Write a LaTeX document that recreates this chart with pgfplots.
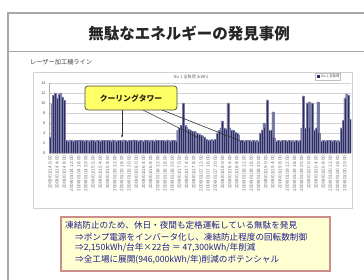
\documentclass[border=0pt]{standalone}
\usepackage{pgfplots}
\pgfplotsset{compat=1.18}
\usetikzlibrary{arrows.meta}
\usepackage{fontspec}
\setmainfont{Liberation Sans}
\newfontfamily\cjk{Noto Sans CJK JP}
\definecolor{barfill}{HTML}{2D2D5E}
\definecolor{baredge}{HTML}{7C7CAB}
\definecolor{slidegray}{HTML}{A8A8A8}
\definecolor{callyel}{HTML}{FFFF66}
\definecolor{boxfill}{HTML}{FFFFD2}
\definecolor{boxedge}{HTML}{CC8C8C}
\definecolor{navytext}{HTML}{1E1E8C}
\begin{document}
\begin{tikzpicture}[x=1pt,y=1pt]
\path[use as bounding box, fill=white] (0,0) rectangle (364,280);
% slide frame
\draw[slidegray, line width=1.2pt] (8,-2) -- (8,267) -- (366,267);
\draw[slidegray, line width=0.8pt] (8,229) -- (366,229);
\node[font=\cjk\bfseries\fontsize{15.5}{16}\selectfont, text=black!85] at (189,247) {無駄なエネルギーの発見事例};
\node[anchor=west, font=\cjk\fontsize{6.2}{7}\selectfont, text=black!75, inner sep=0pt] at (30,218) {レーザー加工機ライン};
% chart frame
\draw[gray!35, line width=0.5pt, fill=white] (33,72) rectangle (352,208);
\node[font=\cjk\fontsize{4.2}{5}\selectfont, text=black!60] at (191,203) {No.1 全負荷 (kWh)};
\draw[gray!50, line width=0.3pt] (315,200) rectangle (340,207);
\fill[barfill] (317,202) rectangle (320,205);
\node[anchor=west, font=\cjk\fontsize{3.4}{4}\selectfont, text=black!70, inner sep=0pt] at (321,203.5) {No.1 全負荷};
\begin{axis}[
  at={(49pt,127pt)}, anchor=south west, scale only axis,
  width=302pt, height=70pt,
  xmin=-0.5, xmax=167.5, ymin=0, ymax=14,
  ybar, bar width=1,
  ytick={0,2,...,14},
  ymajorgrids, grid style={gray!35, line width=0.3pt},
  axis x line*=bottom, axis y line*=left,
  axis line style={gray!60, line width=0.4pt},
  tick style={gray!60, line width=0.3pt},
  major tick length=1.5pt,
  /pgf/number format/assume math mode=true,
  yticklabel style={font=\fontsize{4}{4}\selectfont, text=black!65},
  xtick={0,4,...,164},
  xticklabels={
  2008/01/14 0:00,2008/01/14 4:00,2008/01/14 8:00,2008/01/14 12:00,2008/01/14 16:00,2008/01/14 20:00,
  2008/01/15 0:00,2008/01/15 4:00,2008/01/15 8:00,2008/01/15 12:00,2008/01/15 16:00,2008/01/15 20:00,
  2008/01/16 0:00,2008/01/16 4:00,2008/01/16 8:00,2008/01/16 12:00,2008/01/16 16:00,2008/01/16 20:00,
  2008/01/17 0:00,2008/01/17 4:00,2008/01/17 8:00,2008/01/17 12:00,2008/01/17 16:00,2008/01/17 20:00,
  2008/01/18 0:00,2008/01/18 4:00,2008/01/18 8:00,2008/01/18 12:00,2008/01/18 16:00,2008/01/18 20:00,
  2008/01/19 0:00,2008/01/19 4:00,2008/01/19 8:00,2008/01/19 12:00,2008/01/19 16:00,2008/01/19 20:00,
  2008/01/20 0:00,2008/01/20 4:00,2008/01/20 8:00,2008/01/20 12:00,2008/01/20 16:00,2008/01/20 20:00},
  xticklabel style={rotate=90, anchor=east, font=\fontsize{4.6}{5}\selectfont, text=black!55, inner sep=1pt},
]
\addplot[fill=barfill, draw=baredge, line width=0.2pt] coordinates {
(0,3.2)(1,9.8)(2,11.5)(3,12.0)(4,11.0)(5,11.8)(6,12.0)(7,11.2)(8,10.5)
(9,2.5)(10,2.4)(11,2.6)(12,2.5)(13,2.4)(14,2.5)(15,2.5)(16,2.4)(17,2.6)(18,2.5)(19,2.4)(20,2.5)
(21,2.5)(22,2.4)(23,2.6)(24,2.5)(25,2.4)(26,2.5)(27,2.5)(28,2.4)(29,2.6)(30,2.5)
(31,2.4)(32,2.5)(33,2.5)(34,2.4)(35,2.6)(36,2.5)(37,2.4)(38,2.5)(39,2.5)(40,2.4)
(41,2.6)(42,2.5)(43,2.4)(44,2.5)(45,2.5)(46,2.4)(47,2.6)(48,2.5)(49,2.4)(50,2.5)
(51,2.5)(52,2.4)(53,2.6)(54,2.5)(55,2.4)(56,2.5)(57,2.5)(58,2.4)(59,2.6)(60,2.5)
(61,2.4)(62,2.5)(63,2.5)(64,2.4)(65,2.6)(66,2.5)(67,2.4)(68,2.5)(69,2.5)(70,2.4)
(71,4.5)(72,5.0)(73,5.5)(74,10.0)(75,5.5)(76,5.2)(77,4.8)(78,4.6)(79,4.4)(80,4.3)
(81,4.1)(82,3.9)(83,3.7)(84,3.5)(85,3.4)(86,3.2)(87,2.7)(88,2.6)(89,2.6)(90,2.7)
(91,2.6)(92,2.7)(93,4.0)(94,4.5)(95,5.0)(96,6.4)(97,5.0)(98,4.8)(99,10.0)(100,5.0)
(101,4.6)(102,4.5)(103,4.2)(104,4.0)(105,3.6)(106,2.4)(107,2.5)(108,2.4)(109,2.5)(110,2.4)
(111,2.5)(112,2.4)(113,2.5)(114,2.4)(115,2.5)(116,2.4)(117,4.0)(118,4.6)(119,6.0)(120,5.0)
(121,10.6)(122,4.5)(123,4.6)(124,8.2)(125,3.0)(126,2.4)(127,2.5)(128,2.4)(129,2.5)(130,2.4)
(131,2.5)(132,2.4)(133,2.5)(134,2.4)(135,2.5)(136,2.4)(137,2.5)(138,2.4)(139,2.5)(140,5.0)
(141,11.4)(142,5.0)(143,10.0)(144,10.2)(145,5.0)(146,10.0)(147,4.6)(148,5.0)(149,10.2)(150,4.0)
(151,2.4)(152,2.5)(153,2.4)(154,2.5)(155,2.4)(156,2.5)(157,2.4)(158,2.5)(159,2.4)(160,2.5)
(161,2.4)(162,5.0)(163,6.5)(164,11.0)(165,11.8)(166,11.5)(167,6.8)
};
\end{axis}
% callout lines
\draw[black!80, line width=0.6pt, -{Latex[length=2.5pt,width=2pt]}] (122,172) -- (122,142);
\draw[black!80, line width=0.6pt, -{Latex[length=2.5pt,width=2pt]}] (143,170) -- (199,142);
\draw[black!80, line width=0.6pt, -{Latex[length=2.5pt,width=2pt]}] (162,170) -- (243,138);
% callout box
\draw[black!70, line width=0.7pt, fill=callyel, rounded corners=3pt] (85,170) rectangle (177,194);
\node[font=\cjk\bfseries\fontsize{7.8}{8}\selectfont, text=black!75!brown] at (131,182) {クーリングタワー};
% bottom text box
\draw[boxedge, line width=1.6pt, fill=boxfill] (61,9) rectangle (330,63);
\begin{scope}[every node/.style={anchor=west, inner sep=0pt, text=navytext, font=\cjk\fontsize{8.6}{9}\selectfont}]
\node at (65,55) {凍結防止のため、休日・夜間も定格運転している無駄を発見};
\node at (75,43) {⇒ポンプ電源をインバータ化し、凍結防止程度の回転数制御};
\node at (75,32) {⇒2,150kWh/台年×22台 ＝ 47,300kWh/年削減};
\node at (75,20) {⇒全工場に展開(946,000kWh/年)削減のポテンシャル};
\end{scope}
\end{tikzpicture}
\end{document}
